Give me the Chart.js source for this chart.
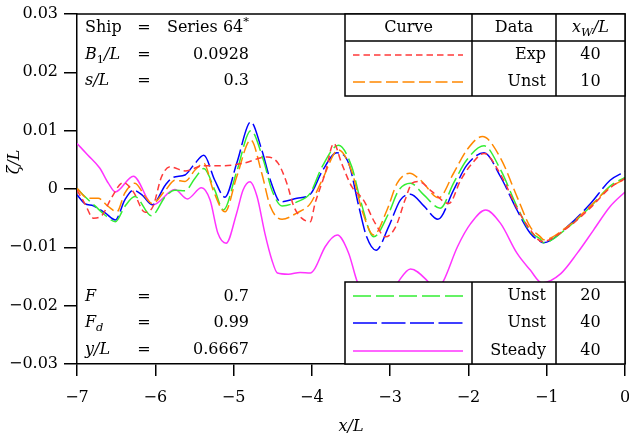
<!DOCTYPE html>
<html>
<head>
<meta charset="utf-8">
<script src="https://cdn.jsdelivr.net/npm/chart.js@4.4.1/dist/chart.umd.min.js"></script>
<style>
  html, body { margin: 0; padding: 0; background: #fff; }
  #c { display: block; }
</style>
</head>
<body>
<canvas id="c" width="629" height="439"></canvas>
<script>
// ---------- data ----------
const xTicks = [-7, -6, -5, -4, -3, -2, -1, 0];
const yTicks = [-0.03, -0.02, -0.01, 0, 0.01, 0.02, 0.03];

const expX = [-7, -6.90, -6.79, -6.68, -6.56, -6.41, -6.28, -6.13, -6.03, -5.92, -5.81, -5.62, -5.38, -5.13, -4.88, -4.57, -4.43, -4.32, -4.23, -4.13, -4.02, -3.96, -3.83, -3.72, -3.62, -3.49, -3.34, -3.19, -3.06, -2.93, -2.81, -2.72, -2.64, -2.46, -2.25, -2.10, -1.97, -1.80, -1.59, -1.38, -1.21, -1.06, -0.74, -0.44, -0.19, 0];
const expY = [-0.0002, -0.0025, -0.0050, -0.0045, -0.0015, 0.0011, -0.0005, -0.0040, -0.0030, 0.0021, 0.0038, 0.0031, 0.0040, 0.0040, 0.0044, 0.0055, 0.0044, 0.0010, -0.0030, -0.0050, -0.0056, -0.0025, 0.0027, 0.0078, 0.0044, 0.0004, -0.0019, -0.0059, -0.0082, -0.0065, -0.0019, 0.0010, 0.0013, -0.0005, -0.0025, 0.0015, 0.0041, 0.0061, 0.0025, -0.0033, -0.0070, -0.0090, -0.0067, -0.0032, 0.0002, 0.0018];

const unst10X = [-7, -6.86, -6.73, -6.60, -6.49, -6.39, -6.26, -6.13, -6.04, -5.87, -5.75, -5.62, -5.49, -5.38, -5.26, -5.11, -4.96, -4.78, -4.64, -4.53, -4.38, -4.19, -4.02, -3.87, -3.66, -3.49, -3.36, -3.21, -3.04, -2.91, -2.75, -2.61, -2.38, -2.19, -2.02, -1.82, -1.59, -1.38, -1.21, -1.08, -1.04, -0.74, -0.44, -0.19, 0];
const unst10Y = [0.0001, -0.0016, -0.0016, -0.0030, -0.0039, -0.0007, 0.0010, -0.0013, -0.0025, -0.0002, 0.0015, 0.0013, 0.0033, 0.0044, -0.0002, -0.0039, 0.0021, 0.0084, 0.0027, -0.0030, -0.0052, -0.0041, -0.0025, 0.0015, 0.0067, 0.0030, -0.0036, -0.0079, -0.0036, 0.0010, 0.0027, 0.0015, -0.0015, 0.0027, 0.0067, 0.0090, 0.0053, -0.0013, -0.0065, -0.0082, -0.0087, -0.0065, -0.0029, 0.0003, 0.0017];

const unst20X = [-7, -6.90, -6.77, -6.64, -6.51, -6.39, -6.26, -6.05, -5.87, -5.75, -5.62, -5.49, -5.38, -5.24, -5.13, -4.96, -4.78, -4.62, -4.51, -4.38, -4.19, -4.02, -3.87, -3.66, -3.49, -3.38, -3.21, -3.02, -2.89, -2.74, -2.57, -2.36, -2.19, -2.02, -1.80, -1.59, -1.38, -1.21, -1.08, -1.04, -0.74, -0.44, -0.19, 0];
const unst20Y = [0.0001, -0.0013, -0.0029, -0.0045, -0.0056, -0.0030, -0.0013, -0.0046, -0.0013, -0.0002, -0.0003, 0.0019, 0.0035, -0.0002, -0.0036, 0.0030, 0.0100, 0.0050, -0.0002, -0.0029, -0.0022, -0.0007, 0.0038, 0.0075, 0.0038, -0.0019, -0.0082, -0.0042, -0.0002, 0.0010, -0.0010, -0.0033, 0.0010, 0.0050, 0.0074, 0.0033, -0.0030, -0.0073, -0.0086, -0.0092, -0.0067, -0.0030, 0.0005, 0.0020];

const unst40X = [-7, -6.90, -6.79, -6.64, -6.51, -6.39, -6.28, -6.17, -6.04, -5.87, -5.77, -5.62, -5.51, -5.38, -5.24, -5.11, -4.96, -4.78, -4.64, -4.53, -4.40, -4.19, -4.02, -3.87, -3.68, -3.53, -3.40, -3.30, -3.18, -3.02, -2.87, -2.74, -2.57, -2.39, -2.19, -2.02, -1.80, -1.59, -1.38, -1.21, -1.08, -1.04, -0.74, -0.44, -0.19, 0];
const unst40Y = [-0.0010, -0.0025, -0.0029, -0.0041, -0.0053, -0.0019, -0.0002, -0.0010, -0.0027, 0.0007, 0.0020, 0.0024, 0.0041, 0.0058, 0.0015, -0.0014, 0.0044, 0.0115, 0.0067, 0.0015, -0.0022, -0.0016, -0.0009, 0.0030, 0.0062, 0.0044, -0.0030, -0.0082, -0.0105, -0.0065, -0.0019, -0.0009, -0.0029, -0.0052, -0.0002, 0.0041, 0.0062, 0.0021, -0.0036, -0.0076, -0.0090, -0.0092, -0.0065, -0.0025, 0.0015, 0.0030];

const steadyX = [-7, -6.86, -6.71, -6.60, -6.51, -6.28, -6.03, -5.75, -5.59, -5.41, -5.30, -5.20, -5.095, -4.96, -4.88, -4.79, -4.70, -4.60, -4.51, -4.44, -4.30, -4.15, -4.02, -3.96, -3.83, -3.675, -3.53, -3.42, -3.15, -2.895, -2.74, -2.52, -2.42, -2.32, -2.14, -1.97, -1.78, -1.59, -1.38, -1.21, -1.06, -0.82, -0.61, -0.40, -0.19, 0];
const steadyY = [0.0078, 0.0058, 0.0036, 0.0010, -0.0005, 0.0022, -0.0027, -0.0001, -0.0017, 0.0002, -0.0019, -0.0076, -0.0093, -0.0041, -0.0002, 0.00125, -0.0013, -0.0076, -0.0122, -0.0144, -0.0146, -0.0143, -0.0144, -0.0136, -0.0099, -0.0079, -0.0110, -0.0159, -0.0220, -0.0159, -0.0137, -0.0158, -0.0175, -0.0158, -0.0099, -0.0059, -0.0036, -0.0059, -0.0110, -0.0139, -0.0161, -0.0145, -0.0110, -0.0070, -0.0030, -0.0005];

// legend table content
const legendData = ['Exp', 'Unst', 'Unst', 'Unst', 'Steady'];
const legendXw = ['40', '10', '20', '40', '40'];

// ---------- chart ----------
function pts(xs, ys) { return xs.map((x, i) => ({ x: x, y: ys[i] })); }

const SERIF = '"DejaVu Serif", "Liberation Serif", serif';

const datasets = [
  { label: 'Exp 40', data: pts(expX, expY), borderColor: '#ff3a3a', borderDash: [6.5, 4] },
  { label: 'Unst 10', data: pts(unst10X, unst10Y), borderColor: '#ff8800', borderDash: [12, 4.5] },
  { label: 'Unst 20', data: pts(unst20X, unst20Y), borderColor: '#33ee33', borderDash: [18, 5] },
  { label: 'Unst 40', data: pts(unst40X, unst40Y), borderColor: '#0000ff', borderDash: [24, 4.5] },
  { label: 'Steady 40', data: pts(steadyX, steadyY), borderColor: '#ff33ff', borderDash: [] }
].map(d => Object.assign(d, {
  borderWidth: 1.5, pointRadius: 0, fill: false, cubicInterpolationMode: 'monotone', showLine: true
}));

// rich text helper: parts [{t, i (italic), sub, sup}]
function richWidth(ctx, parts, size) {
  let w = 0;
  for (const p of parts) {
    const s = (p.sub || p.sup) ? size * 0.72 : size;
    ctx.font = (p.i ? 'italic ' : '') + s + 'px ' + SERIF;
    w += ctx.measureText(p.t).width;
  }
  return w;
}
function drawRich(ctx, parts, x, y, align, size) {
  const w = richWidth(ctx, parts, size);
  let cx = align === 'right' ? x - w : align === 'center' ? x - w / 2 : x;
  ctx.textBaseline = 'middle';
  ctx.textAlign = 'left';
  for (const p of parts) {
    const s = (p.sub || p.sup) ? size * 0.72 : size;
    ctx.font = (p.i ? 'italic ' : '') + s + 'px ' + SERIF;
    const dy = p.sub ? size * 0.3 : p.sup ? -size * 0.35 : 0;
    ctx.fillText(p.t, cx, y + dy);
    cx += ctx.measureText(p.t).width;
  }
}

const overlay = {
  id: 'overlay',
  afterDraw(chart) {
    const ctx = chart.ctx;
    const a = chart.chartArea;
    const FS = 16;
    ctx.save();
    ctx.fillStyle = '#000';
    ctx.strokeStyle = '#000';
    ctx.lineWidth = 1.5;
    // top and right frame
    ctx.beginPath();
    ctx.moveTo(a.left, a.top); ctx.lineTo(a.right, a.top); ctx.lineTo(a.right, a.bottom);
    ctx.stroke();

    // legend tables
    const bx0 = a.right - 280, c1 = a.right - 153, c2 = a.right - 69;
    const lineX0 = bx0 + 8, lineX1 = bx0 + 118;
    const boxes = [
      { top: a.top, bottom: a.top + 82, header: true, rows: [0, 1], rowY: [a.top + 41, a.top + 68] },
      { top: a.bottom - 82, bottom: a.bottom, header: false, rows: [2, 3, 4], rowY: [a.bottom - 68, a.bottom - 41, a.bottom - 13] }
    ];
    for (const b of boxes) {
      ctx.fillStyle = '#fff';
      ctx.fillRect(bx0, b.top, a.right - bx0, b.bottom - b.top);
      ctx.strokeStyle = '#000';
      ctx.lineWidth = 1.5;
      ctx.setLineDash([]);
      ctx.strokeRect(bx0, b.top, a.right - bx0, b.bottom - b.top);
      ctx.beginPath();
      ctx.moveTo(c1, b.top); ctx.lineTo(c1, b.bottom);
      ctx.moveTo(c2, b.top); ctx.lineTo(c2, b.bottom);
      if (b.header) { ctx.moveTo(bx0, b.top + 27); ctx.lineTo(a.right, b.top + 27); }
      ctx.stroke();
      ctx.fillStyle = '#000';
      if (b.header) {
        const hy = b.top + 14;
        drawRich(ctx, [{ t: 'Curve' }], (bx0 + c1) / 2, hy, 'center', FS);
        drawRich(ctx, [{ t: 'Data' }], (c1 + c2) / 2, hy, 'center', FS);
        drawRich(ctx, [{ t: 'x', i: true }, { t: 'W', i: true, sub: true }, { t: '/L', i: true }], (c2 + a.right) / 2, hy, 'center', FS);
      }
      b.rows.forEach((di, k) => {
        const y = b.rowY[k];
        const ds = chart.data.datasets[di];
        ctx.strokeStyle = ds.borderColor;
        ctx.lineWidth = 1.5;
        ctx.setLineDash(ds.borderDash);
        ctx.beginPath(); ctx.moveTo(lineX0, y); ctx.lineTo(lineX1, y); ctx.stroke();
        ctx.setLineDash([]);
        ctx.fillStyle = '#000';
        drawRich(ctx, [{ t: legendData[di] }], c2 - 10, y, 'right', FS);
        drawRich(ctx, [{ t: legendXw[di] }], (c2 + a.right) / 2, y, 'center', FS);
      });
    }

    // parameter annotations
    ctx.fillStyle = '#000';
    const lx = a.left + 8, ex = a.left + 67, vx = a.left + 172;
    const topRows = [
      { k: [{ t: 'Ship' }], v: [{ t: 'Series 64' }, { t: '*', sup: true }], y: a.top + 14 },
      { k: [{ t: 'B', i: true }, { t: '1', sub: true }, { t: '/L', i: true }], v: [{ t: '0.0928' }], y: a.top + 41 },
      { k: [{ t: 's/L', i: true }], v: [{ t: '0.3' }], y: a.top + 67 }
    ];
    const botRows = [
      { k: [{ t: 'F', i: true }], v: [{ t: '0.7' }], y: a.bottom - 67 },
      { k: [{ t: 'F', i: true }, { t: 'd', i: true, sub: true }], v: [{ t: '0.99' }], y: a.bottom - 41 },
      { k: [{ t: 'y/L', i: true }], v: [{ t: '0.6667' }], y: a.bottom - 14 }
    ];
    for (const r of topRows.concat(botRows)) {
      drawRich(ctx, r.k, lx, r.y, 'left', FS);
      drawRich(ctx, [{ t: '=' }], ex, r.y, 'center', FS);
      drawRich(ctx, r.v, vx, r.y, 'right', FS);
    }

    // axis titles
    drawRich(ctx, [{ t: 'x/L', i: true }], (a.left + a.right) / 2, 427, 'center', FS);
    ctx.save();
    ctx.translate(15, 162);
    ctx.rotate(-Math.PI / 2);
    drawRich(ctx, [{ t: 'ζ/L', i: true }], 0, 0, 'center', FS);
    ctx.restore();
    ctx.restore();
  }
};

function fmtY(v) {
  const r = Math.round(v * 100) / 100;
  if (r === 0) return '0';
  return (r < 0 ? '\u2212' : '') + Math.abs(r).toFixed(2);
}
function fmtX(v) {
  const r = Math.round(v);
  if (r === 0) return '0';
  return (r < 0 ? '\u2212' : '') + Math.abs(r);
}

new Chart(document.getElementById('c'), {
  type: 'line',
  data: { datasets: datasets },
  options: {
    responsive: false,
    animation: false,
    devicePixelRatio: 1,
    layout: { padding: { top: 14, right: 4, left: 0, bottom: 0 } },
    plugins: { legend: { display: false }, tooltip: { enabled: false } },
    scales: {
      x: {
        type: 'linear', min: xTicks[0], max: xTicks[xTicks.length - 1],
        afterBuildTicks: s => { s.ticks = xTicks.map(v => ({ value: v })); },
        afterFit: s => { s.height = 75; s.paddingLeft = 0; s.paddingRight = 0; },
        grid: { drawOnChartArea: false, drawTicks: true, tickLength: 12, color: '#000', lineWidth: 1.5 },
        border: { display: true, color: '#000', width: 1.5 },
        ticks: { color: '#000', padding: 12, maxRotation: 0, font: { family: SERIF, size: 16 }, callback: v => fmtX(v) }
      },
      y: {
        type: 'linear', min: yTicks[0], max: yTicks[yTicks.length - 1],
        afterBuildTicks: s => { s.ticks = yTicks.map(v => ({ value: v })); },
        afterFit: s => { s.width = 77; s.paddingTop = 0; s.paddingBottom = 0; },
        grid: { drawOnChartArea: false, drawTicks: true, tickLength: 13, color: '#000', lineWidth: 1.5 },
        border: { display: true, color: '#000', width: 1.5 },
        ticks: { color: '#000', padding: 6, font: { family: SERIF, size: 16 }, callback: v => fmtY(v) }
      }
    }
  },
  plugins: [overlay]
});
</script>
</body>
</html>
